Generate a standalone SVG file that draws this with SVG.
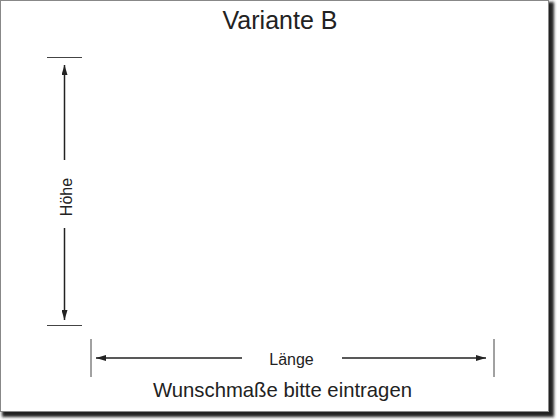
<svg xmlns="http://www.w3.org/2000/svg" width="560" height="420" viewBox="0 0 560 420">
  <style>
    .t { font-family: "Liberation Sans", Arial, sans-serif; fill: #222; text-anchor: middle; }
    .tick { stroke: #444; stroke-width: 1; fill: none; }
    .dim { stroke: #222; stroke-width: 1.5; fill: none; }
  </style>
  <defs>
    <filter id="sh" x="-5%" y="-5%" width="110%" height="110%">
      <feGaussianBlur stdDeviation="1.8"/>
    </filter>
    <marker id="ah" viewBox="0 0 10 6" refX="10" refY="3" markerWidth="10" markerHeight="6" markerUnits="userSpaceOnUse" orient="auto">
      <path d="M0,0 L10,3 L0,6 Z" fill="#222"/>
    </marker>
  </defs>
  <rect x="0" y="0" width="560" height="420" fill="#fff"/>
  <g id="card">
    <rect x="2" y="2" width="552" height="415" fill="#222" filter="url(#sh)"/>
    <rect x="0.5" y="0.5" width="548" height="411" fill="#fff" stroke="#888" stroke-width="1"/>
  </g>
  <g id="title">
    <text class="t" x="280" y="28.5" font-size="25">Variante B</text>
  </g>
  <g id="connectors">
    <line class="tick" x1="47" y1="57.5" x2="82" y2="57.5"/>
    <line class="tick" x1="47" y1="325.5" x2="82" y2="325.5"/>
    <line class="dim" x1="64.5" y1="160" x2="64.5" y2="65" marker-end="url(#ah)"/>
    <line class="dim" x1="64.5" y1="228" x2="64.5" y2="320" marker-end="url(#ah)"/>
    <line class="tick" x1="91" y1="339" x2="91" y2="377"/>
    <line class="tick" x1="494" y1="339" x2="494" y2="377"/>
    <line class="dim" x1="242" y1="358" x2="96" y2="358" marker-end="url(#ah)"/>
    <line class="dim" x1="342" y1="358" x2="486" y2="358" marker-end="url(#ah)"/>
  </g>
  <g id="hoehe">
    <text class="t" font-size="16" transform="translate(71.5,197) rotate(-90)">Höhe</text>
  </g>
  <g id="laenge">
    <text class="t" x="291.5" y="365" font-size="16">Länge</text>
  </g>
  <g id="hint">
    <text class="t" x="282.5" y="397" font-size="20.3">Wunschmaße bitte eintragen</text>
  </g>
</svg>
